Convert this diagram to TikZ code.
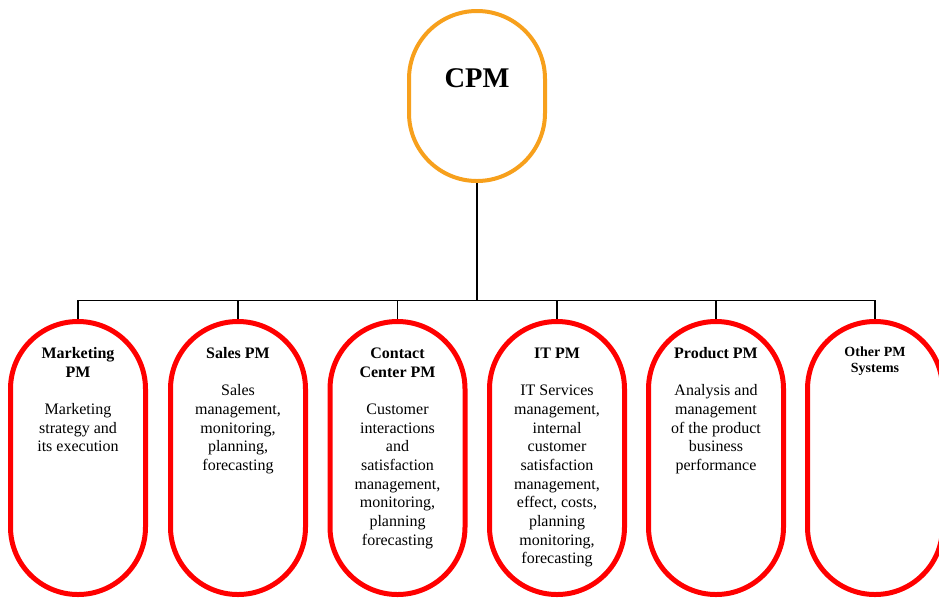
\documentclass[tikz,border=0pt]{standalone}
\usepackage{fontspec}
\setmainfont{Liberation Serif}
\definecolor{cpmorange}{RGB}{247,160,28}
\definecolor{pmred}{RGB}{255,0,0}
\begin{document}
\begin{tikzpicture}[x=1pt,y=-1pt,
  cpmbox/.style={draw=cpmorange,line width=4pt,rectangle,rounded corners=67.9pt,minimum width=136pt,minimum height=170pt,inner sep=0pt},
  pmbox/.style={draw=pmred,line width=5pt,rectangle,rounded corners=67.4pt,minimum width=135pt,minimum height=273pt,inner sep=0pt},
  pmtext/.style={align=center,anchor=base,inner sep=0pt,font=\fontsize{16}{18.67}\selectfont},
  smalltext/.style={align=center,anchor=base,inner sep=0pt,font=\fontsize{14}{16}\selectfont\bfseries},
  link/.style={draw=black,line width=1.5pt}]
\useasboundingbox (0,0) rectangle (939,598);
\fill[white] (0,0) rectangle (939,598);
\node[cpmbox] (cpm) at (477,96) {};
\node[anchor=base,inner sep=0pt,font=\fontsize{28.5}{32}\selectfont\bfseries] (cpmt) at (477,87) {CPM};
\coordinate (bus) at (477,300.5);
\node[pmbox] (b1) at (78,458) {};
\node[pmbox] (b2) at (238,458) {};
\node[pmbox] (b3) at (397.5,458) {};
\node[pmbox] (b4) at (557,458) {};
\node[pmbox] (b5) at (716,458) {};
\node[pmbox] (b6) at (875,458) {};
\draw[link] (cpm.south) -- (bus);
\foreach \b in {b1,b2,b3,b4,b5,b6} \draw[link] (bus) -| (\b.north);
% anchor=base of a multi-line node is the baseline of its last line
\node[pmtext] (t1) at (78,451.84) {\textbf{Marketing}\\\textbf{PM}\\[18.67pt]Marketing\\strategy and\\its execution};
\node[pmtext] (t2) at (238,470.52) {\textbf{Sales PM}\\[18.67pt]Sales\\management,\\monitoring,\\planning,\\forecasting};
\node[pmtext] (t3) at (397.5,545.2) {\textbf{Contact}\\\textbf{Center PM}\\[18.67pt]Customer\\interactions\\and\\satisfaction\\management,\\monitoring,\\planning\\forecasting};
\node[pmtext] (t4) at (557,563.87) {\textbf{IT PM}\\[18.67pt]IT Services\\management,\\internal\\customer\\satisfaction\\management,\\effect, costs,\\planning\\monitoring,\\forecasting};
\node[pmtext] (t5) at (716,470.52) {\textbf{Product PM}\\[18.67pt]Analysis and\\management\\of the product\\business\\performance};
\node[smalltext] (t6) at (875,372) {Other PM\\Systems};
\end{tikzpicture}
\end{document}
